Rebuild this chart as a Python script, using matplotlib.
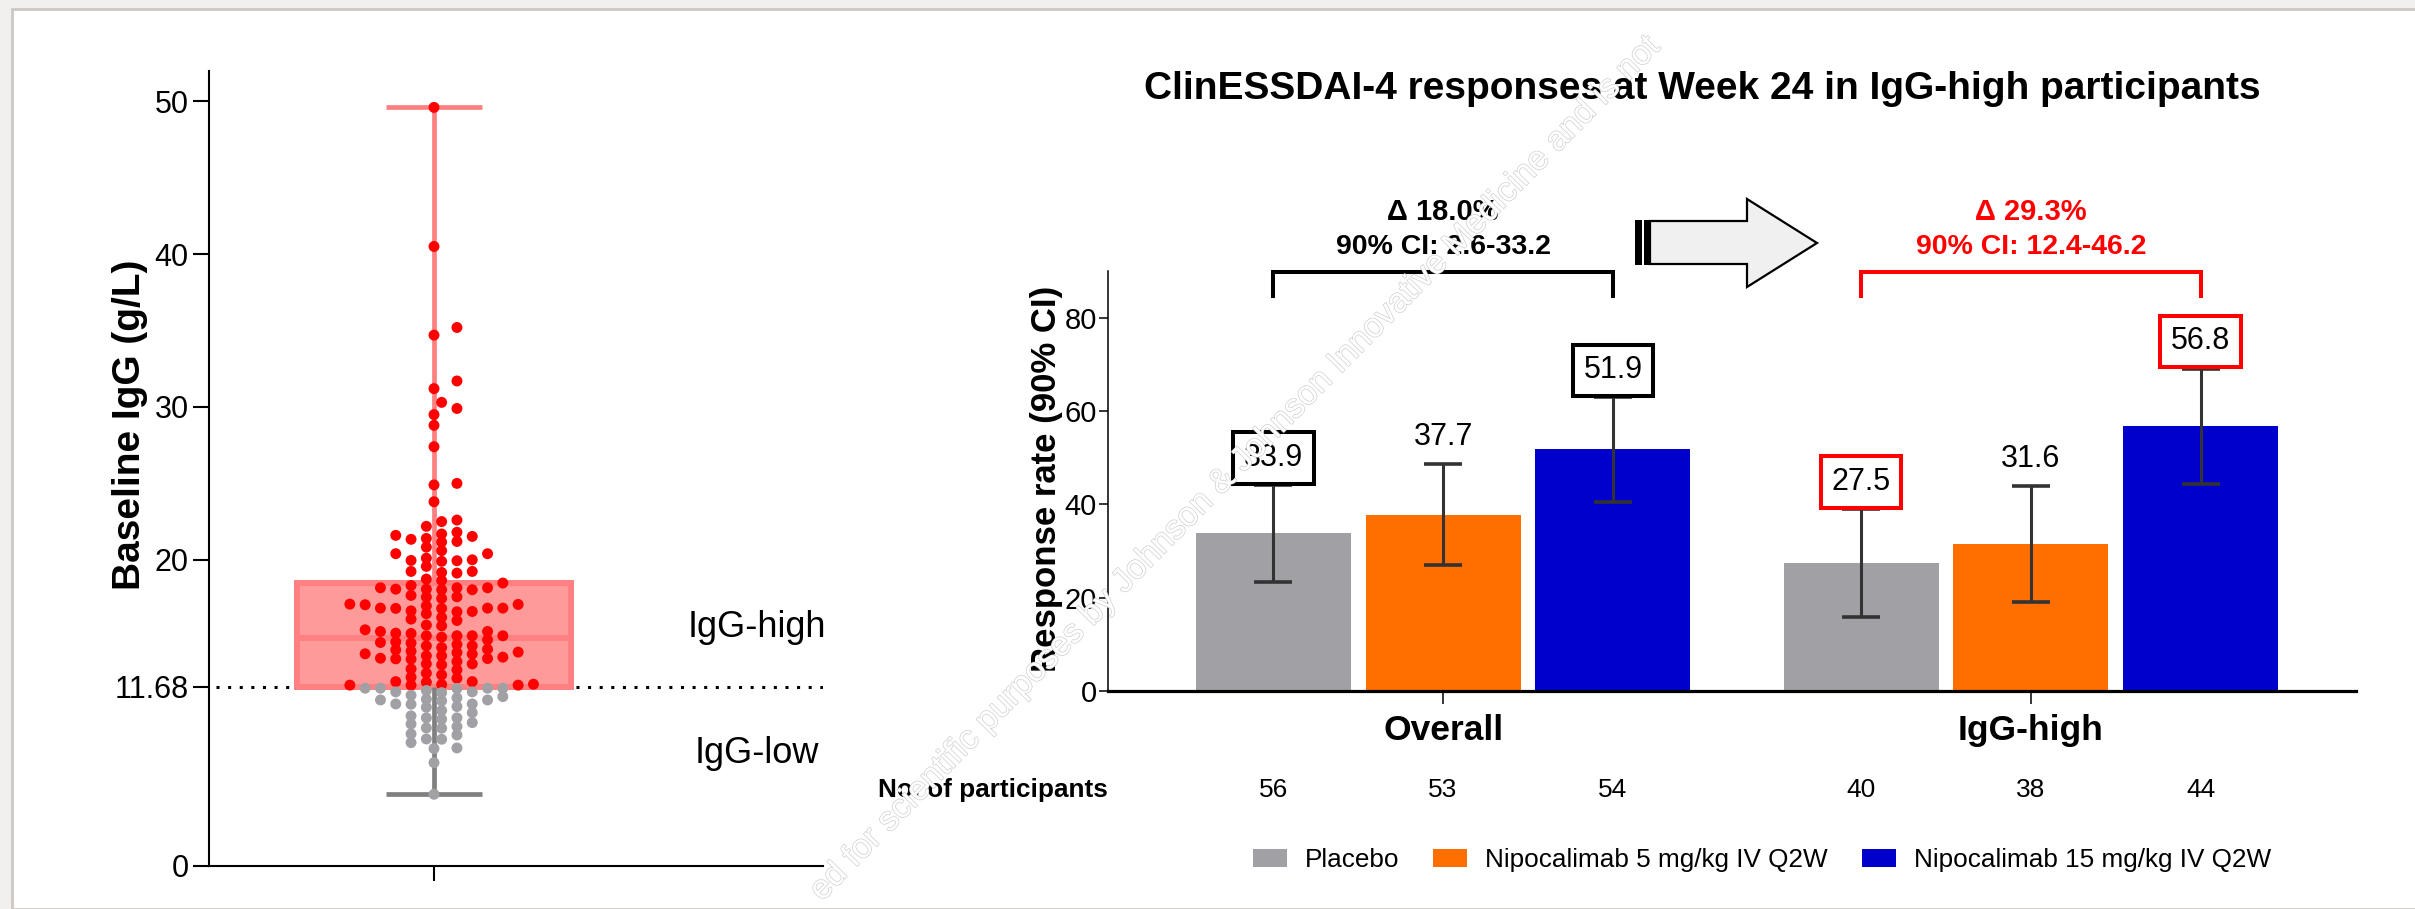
import numpy as np
import matplotlib.pyplot as plt
from matplotlib.patches import Polygon, Rectangle, Patch
import matplotlib.patheffects as pe

plt.rcParams['font.family'] = ['Liberation Sans', 'DejaVu Sans']

W, H = 2415, 909

# baseline IgG (g/L), one value per participant
igg_high = [49.6, 40.5, 35.2, 34.7, 31.7, 31.2, 30.3, 29.9, 29.5, 28.8, 27.4,
            25.0, 24.9, 23.8, 22.6, 22.5,
            17.06, 13.93,
            18.32, 15.18, 13.83, 12.47, 11.84,
            21.34, 18.65, 18.04, 17.47, 16.82, 14.94, 14.37, 13.56, 11.99,
            20.11, 19.57, 18.48, 18.04, 17.08, 16.60, 15.73, 15.03, 14.46, 13.50,
            22.19, 21.69, 20.83, 19.96, 19.17, 18.17, 17.67, 17.10, 16.12, 15.03,
            14.37, 13.72, 13.19, 12.03,
            21.8, 21.2, 20.4, 19.9, 19.24, 18.17, 16.66, 16.03, 15.20, 14.55,
            14.02, 13.54, 12.86, 11.86,
            21.4, 20.4, 18.74, 18.08, 16.84, 16.23, 15.68, 15.03, 13.35, 12.80,
            21.16, 20.6, 20.0, 19.13, 18.08, 16.62, 15.31, 14.59, 14.11, 13.63,
            13.13, 12.58, 12.03,
            21.53, 19.94, 19.24, 17.56, 16.99, 16.47, 15.31, 14.76, 14.26, 13.72,
            21.6, 18.17, 16.84, 15.42, 14.63, 13.85, 13.19, 12.32, 11.8,
            17.58, 16.84, 15.03, 14.15, 13.52, 12.25,
            16.82, 13.96, 11.8,
            11.8]
igg_low = [11.6, 10.83, 11.36,
           11.6, 10.57, 9.79, 9.26,
           11.36, 10.83, 10.14, 9.66, 8.98, 8.26, 7.69,
           11.31, 10.57, 9.09, 8.54, 7.65,
           6.73, 4.66,
           11.6, 10.97, 10.4, 9.57, 8.61, 8.04,
           11.45, 10.88, 10.35, 9.66, 9.0, 8.28,
           11.6, 11.05, 10.55, 10.0, 9.35,
           11.14,
           11.58, 10.77]
igg_cutoff = 11.68
igg_q1, igg_median, igg_q3 = 11.68, 14.9, 18.5
igg_ticks = [0, 11.68, 20, 30, 40, 50]
igg_ticklabels = ['0', '11.68', '20', '30', '40', '50']

# ClinESSDAI-4 response rate (%) with 90% CI
groups = ['Overall', 'IgG-high']
arms = ['Placebo', 'Nipocalimab 5 mg/kg IV Q2W', 'Nipocalimab 15 mg/kg IV Q2W']
overall_rate = [33.9, 37.7, 51.9]
overall_lo = [23.4, 26.9, 40.6]
overall_hi = [44.1, 48.7, 62.9]
igghigh_rate = [27.5, 31.6, 56.8]
igghigh_lo = [15.9, 19.1, 44.4]
igghigh_hi = [39.0, 43.9, 69.1]
overall_n = [56, 53, 54]
igghigh_n = [40, 38, 44]
delta_lines = [('Δ 18.0%', '90% CI: 2.6-33.2'), ('Δ 29.3%', '90% CI: 12.4-46.2')]

arm_colors = ['#a1a0a5', '#ff6f00', '#0000cc']
group_accent = ['black', '#ff0000']


def fx(px):
    return px / W


def fy(py):
    return 1 - py / H


def swarm_offsets(values, step, min_gap):
    order = np.argsort(values)
    xs = np.zeros(len(values))
    lattice = []
    for k in range(40):
        lattice += [(k + 0.5) * step, -(k + 0.5) * step]
    placed = []
    for i in order:
        v = values[i]
        near = [p for p in placed if abs(p[1] - v) < min_gap]
        x = 0.0
        if near:
            for c in lattice:
                if all(abs(c - p[0]) >= step * 0.95 for p in near):
                    x = c
                    break
        xs[i] = x
        placed.append((x, v))
    return xs


fig = plt.figure(figsize=(W / 100, H / 100), dpi=100, facecolor='#f1f0ee')
fig.add_artist(Rectangle((fx(11.5), 0), 1.2, fy(9), transform=fig.transFigure,
                         facecolor='white', edgecolor='#cdc8c3', lw=2, zorder=-5))

# ---------------- left panel ----------------
ax1 = fig.add_axes([fx(209), fy(865.5), (823 - 209) / W, (865.5 - 70.7) / H])
ax1.set_facecolor('none')
ax1.set_xlim(-225, 389)
ax1.set_ylim(0, 52)
px_per_unit = (865.5 - 70.7) / 52

vals = np.array(igg_high + igg_low)
xs = swarm_offsets(vals, 15.3, 7.8 / px_per_unit)
cols = np.where(vals >= igg_cutoff, '#ff0000', '#a1a0a5')

ax1.plot([-218, 389], [igg_cutoff, igg_cutoff], color='black', lw=2.2,
         linestyle=(0, (1, 2.8)), zorder=0.5)
ax1.bar(0, igg_q3 - igg_q1, width=274, bottom=igg_q1, color='#ff9a9a',
        edgecolor='#ff8080', linewidth=4.3, zorder=1)
ax1.hlines(igg_median, -137, 137, color='#ff8080', lw=4.3, zorder=1.2)
ax1.vlines(0, igg_q3, vals.max(), color='#ff8080', lw=3.4, zorder=1.5)
ax1.hlines(vals.max(), -48, 48, color='#ff8080', lw=3.4, zorder=1.5)
ax1.vlines(0, vals.min(), igg_q1, color='#808080', lw=3.4, zorder=1.5)
ax1.hlines(vals.min(), -48, 48, color='#808080', lw=3.4, zorder=1.5)
ax1.scatter(xs, vals, s=62, c=cols, edgecolors='none', zorder=3)

ax1.text(323, 15.55, 'IgG-high', fontsize=26, ha='center', va='center')
ax1.text(323, 7.3, 'IgG-low', fontsize=26, ha='center', va='center')

ax1.set_yticks(igg_ticks)
ax1.set_yticklabels(igg_ticklabels)
ax1.set_xticks([0])
ax1.set_xticklabels([''])
ax1.tick_params(axis='y', labelsize=22, length=11.5, width=1.5, pad=3)
ax1.tick_params(axis='x', length=11, width=1.5)
for s in ['top', 'right']:
    ax1.spines[s].set_visible(False)
for s in ['left', 'bottom']:
    ax1.spines[s].set_linewidth(1.5)
ax1.set_ylabel('Baseline IgG (g/L)', fontsize=28, fontweight='bold')
ax1.yaxis.set_label_coords(-0.10, 0.555)

# ---------------- right panel ----------------
ax2 = fig.add_axes([fx(1108), fy(691), (2356 - 1108) / W, (691 - 271) / H])
ax2.set_facecolor('none')
ax2.set_xlim(-0.57, 1.553)
ax2.set_ylim(0, 90)

step = 0.289
width = 0.2636
rates = [overall_rate, igghigh_rate]
los = [overall_lo, igghigh_lo]
his = [overall_hi, igghigh_hi]
ns = [overall_n, igghigh_n]
for g in range(len(groups)):
    xpos = g + step * (np.arange(3) - 1)
    r = np.array(rates[g])
    lo = np.array(los[g])
    hi = np.array(his[g])
    ax2.bar(xpos, r, width=width, color=arm_colors, zorder=2)
    ax2.errorbar(xpos, r, yerr=[r - lo, hi - r], fmt='none', ecolor='#333333',
                 elinewidth=2.2, capsize=13.7, capthick=2.6, zorder=3)
    for k in range(3):
        boxed = k != 1
        bbox = dict(boxstyle='square,pad=0.35', facecolor='white',
                    edgecolor=group_accent[g], lw=2.9) if boxed else None
        ax2.annotate(f'{r[k]:.1f}', xy=(xpos[k], hi[k]), xytext=(0, 19.5),
                     textcoords='offset points', ha='center', va='center',
                     fontsize=22, bbox=bbox, zorder=4)
        ax2.text(xpos[k], -21.2, str(ns[g][k]), fontsize=19, ha='center',
                 va='center', clip_on=False)
    # bracket between placebo and 15 mg/kg
    ax2.plot([xpos[0], xpos[0], xpos[2], xpos[2]], [84.6, 89.8, 89.8, 84.6],
             color=group_accent[g], lw=2.9, clip_on=False,
             solid_joinstyle='miter')
    ax2.text(g, 102.6, delta_lines[g][0], fontsize=21, fontweight='bold',
             color=group_accent[g], ha='center', va='center', clip_on=False)
    ax2.text(g, 95.1, delta_lines[g][1], fontsize=20.5, fontweight='bold',
             color=group_accent[g], ha='center', va='center', clip_on=False)

ax2.text(-0.57, -21.2, 'No. of participants', fontsize=18.8, fontweight='bold',
         ha='right', va='center', clip_on=False)

ax2.set_xticks(range(len(groups)))
ax2.set_xticklabels(groups, fontsize=25.5, fontweight='bold')
ax2.set_yticks([0, 20, 40, 60, 80])
ax2.tick_params(axis='y', labelsize=21, length=6.5, width=1.1, pad=1.5)
ax2.tick_params(axis='x', length=9.5, width=1.1, pad=7)
for s in ['top', 'right']:
    ax2.spines[s].set_visible(False)
ax2.spines['left'].set_linewidth(1.1)
ax2.spines['bottom'].set_linewidth(2.3)
ax2.set_ylabel('Response rate (90% CI)', fontsize=25, fontweight='bold')
ax2.yaxis.set_label_coords(-0.036, 0.505)

fig.text(fx(1702), fy(89), 'ClinESSDAI-4 responses at Week 24 in IgG-high participants',
         fontsize=28, fontweight='bold', ha='center', va='center')

# block arrow between the two brackets
arrow_px = [(1650, 221), (1747, 221), (1747, 199), (1817, 243), (1747, 287),
            (1747, 264), (1650, 264)]
fig.add_artist(Polygon([(fx(a), fy(b)) for a, b in arrow_px], closed=True,
                       transform=fig.transFigure, facecolor='#f0f0f0',
                       edgecolor='black', lw=1.6, joinstyle='miter'))
fig.add_artist(Rectangle((fx(1635), fy(265)), 7 / W, 45 / H, transform=fig.transFigure,
                         facecolor='black', edgecolor='none'))
fig.add_artist(Rectangle((fx(1644), fy(265)), 6 / W, 45 / H, transform=fig.transFigure,
                         facecolor='black', edgecolor='none'))

handles = [Patch(facecolor=c, edgecolor='none') for c in arm_colors]
fig.legend(handles, arms, loc='center', bbox_to_anchor=(fx(1762), fy(860)),
           ncol=3, frameon=False, fontsize=18.8, handlelength=1.3,
           handleheight=0.65, handletextpad=0.7, columnspacing=1.3,
           borderpad=0)

# watermark
fig.text(fx(822), fy(902),
         'ed for scientific purposes by Johnson & Johnson Innovative Medicine and is not',
         fontsize=24.5, rotation=45.5, rotation_mode='anchor', ha='left',
         va='baseline', color='white', zorder=20,
         path_effects=[pe.withStroke(linewidth=1.0, foreground='#cfcfcf')])

fig.savefig('out.png', dpi=100, facecolor=fig.get_facecolor())
